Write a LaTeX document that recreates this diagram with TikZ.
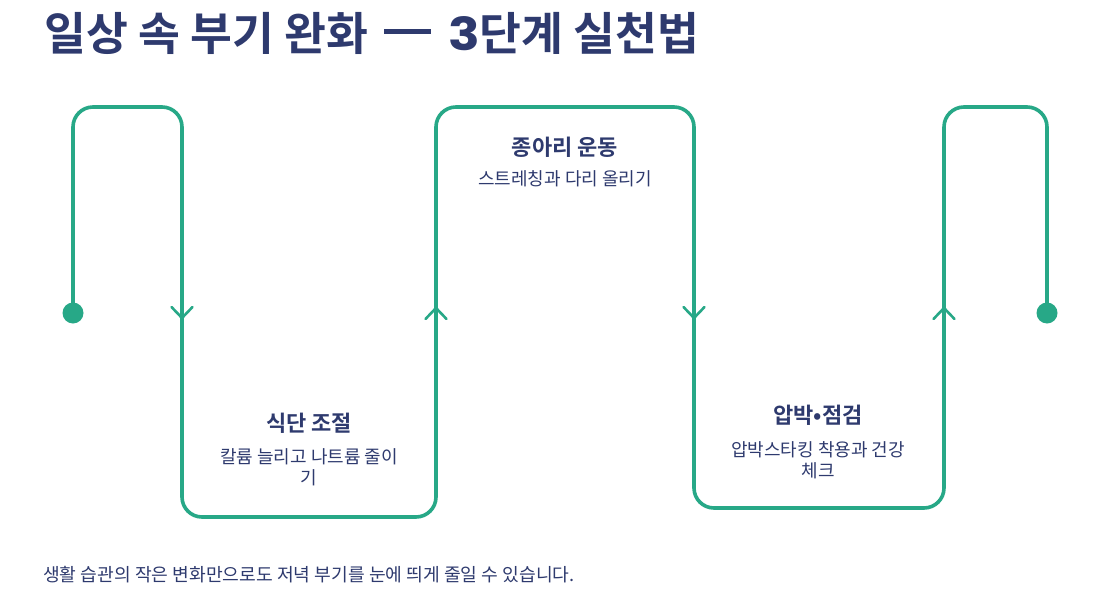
\documentclass[tikz,border=0pt]{standalone}
\usepackage{fontspec}
\setmainfont{Noto Sans CJK KR}
\newfontfamily\krb{Noto Sans CJK KR Bold}
\newfontfamily\popb{Poppins Bold}
\definecolor{flow}{HTML}{27A887}
\definecolor{ink}{HTML}{2E3A6E}
\tikzset{
  flowline/.style={draw=flow, line width=3.6pt, rounded corners=20pt, line cap=round, line join=round},
  chev/.style={draw=flow, line width=2.6pt, line cap=round, line join=round},
  enddot/.style={circle, fill=flow, minimum size=21pt, inner sep=0pt},
  steptitle/.style={text=ink, font=\krb\fontsize{22}{26}\selectfont, align=center, inner sep=0pt},
  stepsub/.style={text=ink, font=\fontsize{18}{21.5}\selectfont, align=center, inner sep=0pt},
}
\begin{document}
\begin{tikzpicture}[x=1pt,y=-1pt]
\useasboundingbox (0,0) rectangle (1095,594);
\fill[white] (0,0) rectangle (1095,594);
% title
\node[anchor=base west, text=ink, font=\krb\fontsize{45.5}{52}\selectfont, inner sep=0pt] (title) at (44,51) {일상 속 부기 완화\hspace{16pt}\raisebox{17pt}{\rule{47pt}{5pt}}\hspace{17pt}{\popb\scalebox{1.15}[1]{3}}단계 실천법};
% path coordinates
\node[enddot] (start) at (73,313) {};
\node[enddot] (finish) at (1047,313) {};
\coordinate (p1) at (73,107);
\coordinate (p2) at (182,107);
\coordinate (p3) at (182,517);
\coordinate (p4) at (436,517);
\coordinate (p5) at (436,107);
\coordinate (p6) at (694,107);
\coordinate (p7) at (694,508);
\coordinate (p8) at (944,508);
\coordinate (p9) at (944,107);
\coordinate (p10) at (1047,107);
\path[flowline] (start.center) -- (p1) -- (p2) -- (p3) -- (p4) -- (p5) -- (p6) -- (p7) -- (p8) -- (p9) -- (p10) -- (finish.center);
% chevrons
\coordinate (a1) at (182,318);
\coordinate (a2) at (436,308);
\coordinate (a3) at (694,318);
\coordinate (a4) at (944,308);
\draw[chev] ([shift={(-10.5,-11)}]a1) -- (a1) -- ([shift={(10.5,-11)}]a1);
\draw[chev] ([shift={(-10.5,11)}]a2) -- (a2) -- ([shift={(10.5,11)}]a2);
\draw[chev] ([shift={(-10.5,-11)}]a3) -- (a3) -- ([shift={(10.5,-11)}]a3);
\draw[chev] ([shift={(-10.5,11)}]a4) -- (a4) -- ([shift={(10.5,11)}]a4);
% step texts
\node[steptitle] (t1) at (309,423) {식단 조절};
\node[stepsub] (s1) at (309,467.5) {칼륨 늘리고 나트륨 줄이\\기};
\node[steptitle] (t2) at (565,147) {종아리 운동};
\node[stepsub] (s2) at (565,178.5) {스트레칭과 다리 올리기};
\node[steptitle] (t3) at (818,415) {압박•점검};
\node[stepsub] (s3) at (818,460) {압박스타킹 착용과 건강\\체크};
% footer
\node[anchor=west, text=ink, font=\fontsize{18.2}{22}\selectfont, inner sep=0pt] (foot) at (43,575) {생활 습관의 작은 변화만으로도 저녁 부기를 눈에 띄게 줄일 수 있습니다.};
\end{tikzpicture}
\end{document}
